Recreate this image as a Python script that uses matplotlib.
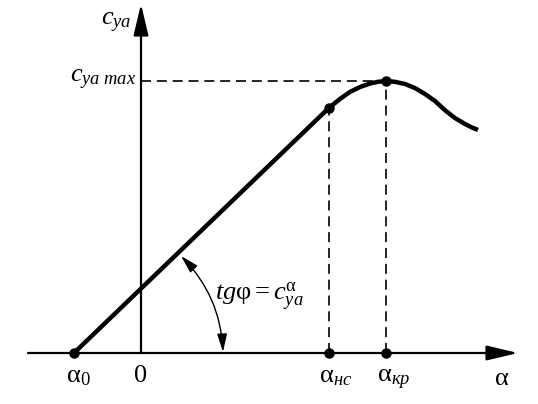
import matplotlib
matplotlib.use('Agg')
import matplotlib.pyplot as plt
from matplotlib.patches import FancyArrowPatch

plt.rcParams['font.family'] = 'Liberation Serif'
plt.rcParams['mathtext.fontset'] = 'custom'
plt.rcParams['mathtext.rm'] = 'Liberation Serif'
plt.rcParams['mathtext.it'] = 'Liberation Serif:italic'

# characteristic angles (deg) and lift coefficients
alpha_0 = -2.0
alpha_nc = 5.6
alpha_kr = 7.3
cy_nc = 0.90
cy_max = 1.0

# non-linear part of the curve
alpha_curve = [5.61, 5.94, 6.24, 6.54, 6.84, 7.07, 7.31, 7.58, 7.88, 8.18, 8.48,
               8.78, 9.07, 9.37, 9.67, 9.88, 10.06]
cy_curve = [0.901, 0.934, 0.960, 0.978, 0.991, 0.997, 1.0, 0.997, 0.989, 0.974, 0.952,
            0.926, 0.893, 0.864, 0.842, 0.829, 0.820]

# layout of the original sketch in pixels
ORIGIN_PX = (141, 353)
PX_PER_DEG = 33.5
PX_PER_CY = 272


def at(px, py):
    return (px - ORIGIN_PX[0]) / PX_PER_DEG, (ORIGIN_PX[1] - py) / PX_PER_CY


fig = plt.figure(figsize=(5.38, 4.04), dpi=100)
ax = fig.add_axes([0, 0, 1, 1])
x_left, y_bottom = at(0, 404)
x_right, y_top = at(538, 0)
ax.set_xlim(x_left, x_right)
ax.set_ylim(y_bottom, y_top)
ax.axis('off')

# axes with arrows
axis_arrow = dict(arrowstyle='-|>,head_length=1.6,head_width=0.38', lw=1.6, color='k',
                  shrinkA=0, shrinkB=0, mutation_scale=12)
ax.annotate('', xy=at(518, 353), xytext=at(28, 353), arrowprops=axis_arrow)
ax.annotate('', xy=at(141, 4), xytext=at(141, 353), arrowprops=axis_arrow)

# lift curve
ax.plot([alpha_0, alpha_nc], [0, cy_nc], color='k', lw=3.2, solid_capstyle='butt')
ax.plot(alpha_curve, cy_curve, color='k', lw=3.2, solid_joinstyle='round', solid_capstyle='butt')

# dashed guides
ax.plot([0, alpha_kr], [cy_max, cy_max], color='k', lw=1.2, dashes=(6, 3.5))
ax.plot([alpha_nc, alpha_nc], [0, cy_nc], color='k', lw=1.2, dashes=(6, 3.5))
ax.plot([alpha_kr, alpha_kr], [0, cy_max], color='k', lw=1.2, dashes=(6, 3.5))

# points
ax.plot([alpha_0, alpha_nc, alpha_kr, alpha_nc, alpha_kr], [0, 0, 0, cy_nc, cy_max],
        'o', ms=6.5, color='k', zorder=5)

# angle arc
arc = FancyArrowPatch(posA=at(181, 256), posB=at(223, 352), connectionstyle='arc3,rad=-0.19',
                      arrowstyle='<|-|>,head_length=1.1,head_width=0.3', mutation_scale=10,
                      lw=1.0, color='k', shrinkA=0, shrinkB=0)
ax.add_patch(arc)

fs = 19
ax.text(*at(131, 25), r'$c_{ya}$', fontsize=fs, ha='right', va='baseline')
ax.text(*at(136, 82), r'$c_{ya\ max}$', fontsize=fs, ha='right', va='baseline')
ax.text(*at(215, 300), r'$tg\mathrm{φ} = c^{\mathrm{α}}_{ya}$', fontsize=fs, ha='left', va='baseline')
ax.text(*at(66, 382), r'$\mathrm{α}_{\mathrm{0}}$', fontsize=fs, ha='left', va='baseline')
ax.text(*at(141, 382), '0', fontsize=fs, ha='center', va='baseline')
ax.text(*at(319, 382), r'$\mathrm{α}_{нс}$', fontsize=fs, ha='left', va='baseline')
ax.text(*at(377, 382), r'$\mathrm{α}_{кр}$', fontsize=fs, ha='left', va='baseline')
ax.text(*at(494, 385), r'$\mathrm{α}$', fontsize=fs, ha='left', va='baseline')

fig.savefig('out.png', dpi=100)
